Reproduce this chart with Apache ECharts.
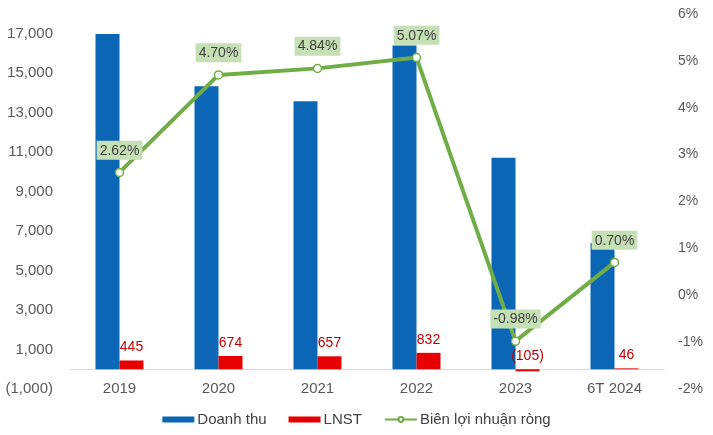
<!DOCTYPE html>
<html><head><meta charset="utf-8">
<script src="https://cdn.jsdelivr.net/npm/echarts@6/dist/echarts.min.js"></script>
<style>html,body{margin:0;padding:0;background:#fff}#c{width:713px;height:435px}</style>
</head><body><div id="c"></div>
<script>
const categories = ['2019', '2020', '2021', '2022', '2023', '6T 2024'];
const doanhThu = [16985, 14340, 13575, 16410, 10714, 6400];
const lnst = [445, 674, 657, 832, -105, 46];
const bienLoiNhuan = [2.62, 4.70, 4.84, 5.07, -0.98, 0.70];

const FONT = '"Liberation Sans", Arial, sans-serif';
const fmtNum = v => {
  const s = Math.abs(v).toLocaleString('en-US');
  return v < 0 ? '(' + s + ')' : s;
};

const chart = echarts.init(document.getElementById('c'));
chart.setOption({
  animation: false,
  textStyle: { fontFamily: FONT },
  grid: { left: 70, right: 49, top: 14, bottom: 46 },
  legend: {
    bottom: 3, left: 'center',
    itemWidth: 32, itemHeight: 6, itemGap: 22,
    textStyle: { fontFamily: FONT, fontSize: 15, color: '#404040', padding: [0, 0, 0, -2] },
    data: [
      { name: 'Doanh thu', icon: 'rect' },
      { name: 'LNST', icon: 'rect' },
      { name: 'Biên lợi nhuận ròng' }
    ]
  },
  xAxis: {
    type: 'category', data: categories,
    axisLine: { onZero: true, lineStyle: { color: '#D9D9D9', width: 1 } },
    axisTick: { show: false },
    axisLabel: { color: '#595959', fontSize: 15, margin: -8, fontFamily: FONT }
  },
  yAxis: [
    {
      type: 'value', min: -1000, max: 18000, interval: 2000,
      splitLine: { show: false }, axisLine: { show: false }, axisTick: { show: false },
      axisLabel: { color: '#595959', fontSize: 15, margin: 17, showMaxLabel: false, fontFamily: FONT, formatter: fmtNum }
    },
    {
      type: 'value', min: -2, max: 6, interval: 1,
      splitLine: { show: false }, axisLine: { show: false }, axisTick: { show: false },
      axisLabel: { color: '#595959', fontSize: 14, margin: 14, fontFamily: FONT, formatter: '{value}%' }
    }
  ],
  series: [
    {
      name: 'Doanh thu', type: 'bar', data: doanhThu, yAxisIndex: 0,
      barWidth: 24, barGap: '0%',
      itemStyle: { color: '#0B67B5' }
    },
    {
      name: 'LNST', type: 'bar', data: lnst, yAxisIndex: 0,
      barWidth: 24, barGap: '0%',
      itemStyle: { color: '#E60000' },
      label: {
        show: true, position: 'top', distance: 6, color: '#C00000', fontSize: 14, fontFamily: FONT,
        formatter: p => fmtNum(p.value)
      }
    },
    {
      name: 'Biên lợi nhuận ròng', type: 'line', data: bienLoiNhuan, yAxisIndex: 1,
      symbol: 'circle', symbolSize: 8, z: 5,
      lineStyle: { color: '#70AD47', width: 4 },
      itemStyle: { color: '#FFFFFF', borderColor: '#70AD47', borderWidth: 1.5 },
      label: {
        show: true, position: 'top', distance: 8,
        backgroundColor: '#C5E0B4', padding: [3, 3, 2, 3],
        color: '#404040', fontSize: 14, fontFamily: FONT,
        formatter: p => p.value.toFixed(2) + '%'
      }
    }
  ]
});
</script>
</body></html>
